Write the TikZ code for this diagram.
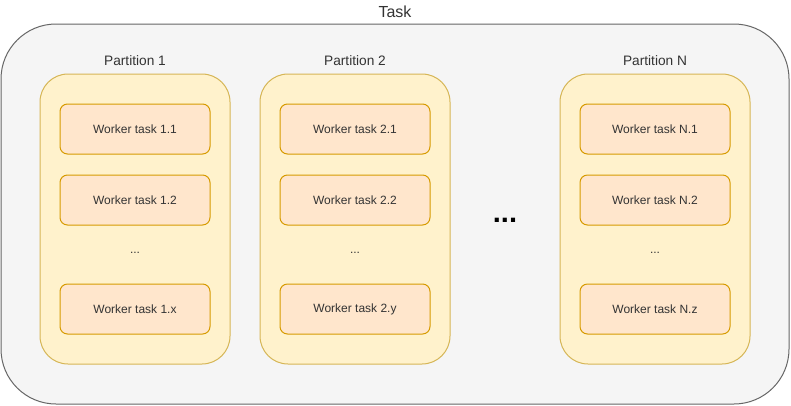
\documentclass[tikz,border=0pt]{standalone}
\usepackage{fontspec}
\setmainfont{Liberation Sans}
\usetikzlibrary{positioning}

\definecolor{taskfill}{HTML}{F5F5F5}
\definecolor{taskline}{HTML}{666666}
\definecolor{partfill}{HTML}{FFF2CC}
\definecolor{partline}{HTML}{D6B656}
\definecolor{workfill}{HTML}{FFE6CC}
\definecolor{workline}{HTML}{D79B00}
\definecolor{txt}{HTML}{333333}

\begin{document}
\begin{tikzpicture}[
    x=1pt, y=-1pt,
    line width=1pt,
    node distance=20pt,
    every node/.style={inner sep=0pt, text=txt},
    taskbox/.style={draw=taskline, fill=taskfill, rounded corners=55pt,
                    minimum width=788pt, minimum height=380pt},
    part/.style={draw=partline, fill=partfill, rounded corners=28pt,
                 minimum width=190pt, minimum height=290pt},
    worker/.style={draw=workline, fill=workfill, rounded corners=7.5pt,
                   minimum width=150pt, minimum height=50pt,
                   font=\fontsize{12}{14}\selectfont},
    title/.style={font=\fontsize{16}{19}\selectfont},
    plabel/.style={font=\fontsize{13.7}{16}\selectfont},
    dots/.style={font=\fontsize{12}{14}\selectfont},
    bigdots/.style={text=black, font=\fontsize{29}{32}\selectfont\bfseries}
]
\useasboundingbox (0,0) rectangle (791,405);

% ================= Outer task =================
\node[taskbox] (task) at (395,214) {};
\node[title] (tasklbl) at (395,11.5) {Task};

% ================= Partitions =================
\node[part] (p1) at (135,219) {};
\node[part] (p2) at (355,219) {};
\node[part] (pN) at (655,219) {};

\node[plabel] (p1lbl) at (135,61) {Partition 1};
\node[plabel] (p2lbl) at (355,61) {Partition 2};
\node[plabel] (pNlbl) at (655,61) {Partition N};

% Partition 1
\node[worker] (w11) at (135,129) {Worker task 1.1};
\node[worker, below=of w11] (w12) {Worker task 1.2};
\node[dots] (d1) at (135,253) {...};
\node[worker] (w1x) at (135,309) {Worker task 1.x};

% Partition 2
\node[worker] (w21) at (355,129) {Worker task 2.1};
\node[worker, below=of w21] (w22) {Worker task 2.2};
\node[dots] (d2) at (355,253) {...};
\node[worker] (w2y) at (355,309) {Worker task 2.y};

% Partition N
\node[worker] (wN1) at (655,129) {Worker task N.1};
\node[worker, below=of wN1] (wN2) {Worker task N.2};
\node[dots] (dN) at (655,253) {...};
\node[worker] (wNz) at (655,309) {Worker task N.z};

% Gap between partitions
\node[bigdots] (gap) at (505,220) {...};

\end{tikzpicture}
\end{document}
